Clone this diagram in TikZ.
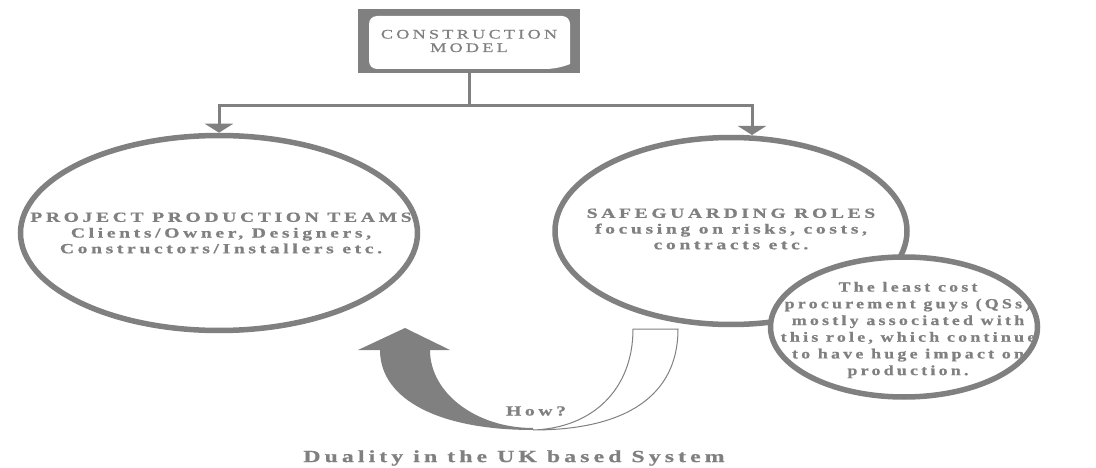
\documentclass[tikz,border=0pt]{standalone}
\usepackage{fontspec}
\usepackage{tikz}
\usetikzlibrary{
    calc,
    arrows.meta,
    positioning,
    shapes.geometric
}
\setmainfont{Liberation Serif}
\newfontfamily\boxfont{Liberation Serif}[FakeStretch=1.4,LetterSpace=25,FakeBold=0.6]
\newfontfamily\ringfont{Liberation Serif}[FakeStretch=1.4,LetterSpace=26,FakeBold=0.8]
\newfontfamily\qsfont{Liberation Serif}[FakeStretch=1.28,LetterSpace=23,FakeBold=0.8]
\newfontfamily\capfont{Liberation Serif}[FakeStretch=1.4,LetterSpace=24,FakeBold=0.8]
\definecolor{dgray}{RGB}{128,128,128}
\tikzset{
    modelbox/.style={
        rectangle, fill=dgray, minimum width=222pt, minimum height=64pt,
        inner sep=0pt, align=center, text=dgray,
        font=\boxfont\fontsize{13}{13.5}\selectfont,
        path picture={
            \coordinate (nw) at (path picture bounding box.north west);
            \fill[white, rounded corners=8] ($(nw)+(11,7)$) -- ++(201,0) -- ++(0,40)
                .. controls +(0,8) and +(22,0) .. ++(-33,13) -- ++(-168,0) -- cycle;
        }
    },
    ring/.style={
        ellipse, draw=dgray, line width=5.5pt, fill=white, inner sep=0pt
    },
    ringtext/.style={
        align=center, text=dgray, inner sep=0pt,
        font=\ringfont\bfseries\fontsize{14}{15.7}\selectfont
    },
    link/.style={draw=dgray, line width=3pt},
    linkarrow/.style={link, -{Triangle[width=28pt,length=9pt]}},
}
\begin{document}
\begin{tikzpicture}[x=1pt,y=-1pt]
    \useasboundingbox (0,0) rectangle (1096,468);
    % top of the tree
    \node[modelbox] (model) at (469,41) {CONSTRUCTION\\MODEL};
    % the two sides
    \node[ring, minimum width=397pt, minimum height=195pt] (prod) at (219,233) {};
    \node[ringtext] (prodtext) at (221,233)
        {PROJECT PRODUCTION TEAMS\\Clients/Owner, Designers,\\Constructors/Installers etc.};
    \node[ring, minimum width=352pt, minimum height=187pt] (safe) at (731,231) {};
    \node[ringtext] (safetext) at (731,229)
        {SAFEGUARDING ROLES\\focusing on risks, costs,\\contracts etc.};
    \node[ring, minimum width=267pt, minimum height=140pt] (qs) at (904,327) {};
    \begin{scope}
        \clip (qs.center) ellipse [x radius=131, y radius=67];
        \node[ringtext, font=\qsfont\bfseries\fontsize{14}{16.7}\selectfont] (qstext) at (908,330)
            {The least cost\\procurement guys (QSs)\\mostly associated with\\this role, which continue\\to have huge impact on\\production.};
    \end{scope}
    \coordinate (split) at (469,106);
    \coordinate (safetop) at (752,135);
    \draw[link] (model.south) -- (split);
    \draw[linkarrow] (split) -| (prod.north);
    \draw[linkarrow] (split) -| (safetop);
    % how the roles feed back
    \filldraw[fill=white, draw=dgray, line width=1pt] (633,329) -- (678,329)
        .. controls (678,395) and (627,430) .. (533,430)
        .. controls (593,428) and (633,389) .. (633,329) -- cycle;
    \fill[dgray] (533,430) .. controls (440,430) and (380,400) .. (380,350)
        -- (358,350) -- (405,328) -- (450,350) -- (430,350)
        .. controls (430,393) and (476,428) .. (533,428) -- cycle;
    \node[ringtext] (how) at (536,411) {How?};
    \node[ringtext, font=\capfont\bfseries\fontsize{17}{19}\selectfont] (caption) at (514,458)
        {Duality in the UK based System};
\end{tikzpicture}
\end{document}
